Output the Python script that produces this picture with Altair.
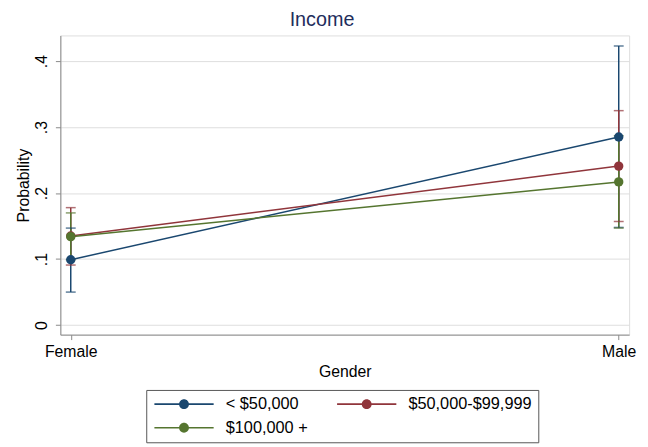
import altair as alt
import pandas as pd

genders = ["Female", "Male"]
groups = ["< $50,000", "$50,000-$99,999", "$100,000 +"]
colors = ["#1a476f", "#90353b", "#55752f"]

prob_lt50 = [0.099, 0.285]
lo_lt50 = [0.050, 0.148]
hi_lt50 = [0.147, 0.423]

prob_mid = [0.135, 0.241]
lo_mid = [0.091, 0.157]
hi_mid = [0.178, 0.325]

prob_hi = [0.134, 0.217]
lo_hi = [0.099, 0.147]
hi_hi = [0.170, 0.287]

series = [
    (groups[0], prob_lt50, lo_lt50, hi_lt50),
    (groups[1], prob_mid, lo_mid, hi_mid),
    (groups[2], prob_hi, lo_hi, hi_hi),
]
rows = []
for g, p, lo, hi in series:
    for i, gen in enumerate(genders):
        rows.append({"gender": gen, "group": g, "p": p[i], "lo": lo[i], "hi": hi[i]})
df = pd.DataFrame(rows)

FONT = "Liberation Sans"

x = alt.X(
    "gender:N",
    sort=genders,
    scale=alt.Scale(type="point", padding=0.019),
    axis=alt.Axis(title="Gender", labelAngle=0, labelFontSize=16, titleFontSize=16,
                  titleFontWeight="normal", labelPadding=4, titlePadding=4, grid=False),
)
yscale = alt.Scale(domain=[-0.0145, 0.439], nice=False, zero=False)
yaxis = alt.Axis(
    title="Probability",
    values=[0, 0.1, 0.2, 0.3, 0.4],
    labelExpr="datum.value == 0 ? '0' : replace(format(datum.value, '.1f'), '0.', '.')",
    labelAngle=270,
    labelAlign="center",
    labelBaseline="bottom",
    labelPadding=6,
    labelFontSize=16,
    titleFontSize=16,
    titleFontWeight="normal",
    titlePadding=2,
    grid=True,
)

# legend glyph: a 60px line with a dot, drawn from a 12px symbol box (1 unit = 6px)
sym = ("M-1,-0.13L9,-0.13L9,0.13L-1,0.13Z "
       "M3.17,0A0.83,0.83 0 1,1 4.83,0A0.83,0.83 0 1,1 3.17,0Z")
color_leg = alt.Color(
    "group:N", sort=groups, scale=alt.Scale(domain=groups, range=colors),
    legend=alt.Legend(
        title=None, orient="none", legendX=87, legendY=359,
        columns=2, direction="horizontal", symbolType=sym, symbolSize=144,
        symbolStrokeWidth=0, symbolOpacity=1,
        labelFontSize=16.5, labelFont=FONT,
        labelOffset=58, columnPadding=27, rowPadding=7, padding=6,
        strokeColor="#555555", fillColor="white", gridAlign="each", labelLimit=300,
    ),
)

base = alt.Chart(df)
rules = base.mark_rule(strokeWidth=1.5).encode(
    x=x, y=alt.Y("lo:Q", scale=yscale, axis=yaxis), y2="hi:Q", color=color_leg)
tick_lo = base.mark_tick(orient="horizontal", size=10, thickness=1.5).encode(
    x=x, y=alt.Y("lo:Q", scale=yscale, axis=yaxis), color=color_leg)
tick_hi = base.mark_tick(orient="horizontal", size=10, thickness=1.5).encode(
    x=x, y=alt.Y("hi:Q", scale=yscale, axis=yaxis), color=color_leg)
lines = base.mark_line(strokeWidth=1.5).encode(
    x=x, y=alt.Y("p:Q", scale=yscale, axis=yaxis), color=color_leg, detail="group:N")
points = base.mark_point(filled=True, size=90, opacity=1).encode(
    x=x, y=alt.Y("p:Q", scale=yscale, axis=yaxis), color=color_leg)

chart = alt.layer(rules, tick_lo, tick_hi, lines, points).properties(
    width=576,
    height=303,
    autosize=alt.AutoSizeParams(type="none"),
    padding={"left": 53, "top": 25, "right": 11, "bottom": 111},
    title=alt.TitleParams("Income", fontSize=20, font=FONT, fontWeight="normal",
                          color="#1e2d5c", anchor="middle", dx=-23, offset=6),
).configure_view(stroke=None).configure_axis(
    labelFont=FONT, titleFont=FONT, labelColor="black", titleColor="black",
    titleFontWeight="normal", domainColor="#333333", tickColor="#333333",
    tickSize=5, domainWidth=1, tickWidth=1, gridColor="#e1e9ee", gridWidth=1,
).configure(background="white")

chart.save("out.html", embed_options={"renderer": "svg", "actions": False})
